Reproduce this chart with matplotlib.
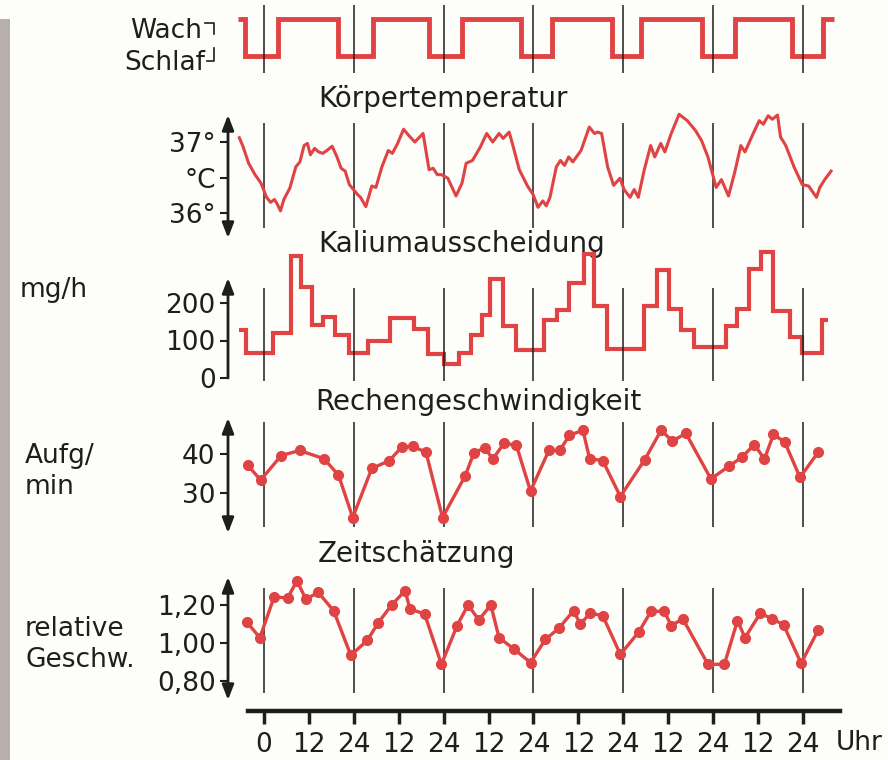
import matplotlib.pyplot as plt
from matplotlib.lines import Line2D
from matplotlib.patches import Rectangle

plt.rcParams['font.family'] = ['DejaVu Sans']

W, H = 888, 760
RED = '#df4343'
INK = '#1e1e1e'
BG = '#fdfdf9'

# Mitternachtslinien (Stunden)
days = [0, 24, 48, 72, 96, 120, 144]
hour_ticks = [0, 12, 24, 36, 48, 60, 72, 84, 96, 108, 120, 132, 144]
hour_labels = ['0', '12', '24', '12', '24', '12', '24', '12', '24', '12', '24', '12', '24']

# Wach (1) / Schlaf (0)
wake_edges = [-6.9, -5.0, 3.8, 19.8, 29.0, 44.2, 53.0, 68.6, 77.0, 93.0, 100.6,
              117.0, 125.8, 141.0, 149.4, 152.4]
wake_state = [1, 0, 1, 0, 1, 0, 1, 0, 1, 0, 1, 0, 1, 0, 1]

# Koerpertemperatur
temp_h = [-6.6, -5.7, -4.1, -2.4, -0.8, 0.7, 1.75, 2.8, 3.6, 4.4, 5.3, 6.9, 8.5, 9.6,
          10.7, 11.6, 12.4, 13.5, 14.6, 15.7, 16.8, 18.2, 19.5, 20.6, 21.7, 22.8, 23.9,
          25.0, 25.8, 27.2, 28.8, 29.9, 31.5, 33.2, 34.3, 35.7, 37.3, 38.7, 40.3, 42.5,
          44.1, 45.2, 46.3, 47.4, 49.1, 51.3, 52.9, 54.0, 55.7, 57.8, 59.5, 61.1, 62.8,
          63.9, 65.5, 66.6, 68.2, 70.4, 71.9, 73.2, 74.5, 75.4, 76.4, 78.1, 79.2, 80.3,
          81.4, 82.5, 84.7, 86.9, 88.3, 89.1, 90.2, 91.8, 93.4, 95.1, 96.2, 97.8, 98.9,
          100.0, 101.6, 103.3, 104.4, 106.0, 107.1, 108.8, 110.9, 113.1, 115.3, 116.9,
          118.6, 120.8, 122.2, 124.1, 125.7, 127.4, 128.5, 130.7, 132.3, 133.4, 134.7,
          135.8, 137.2, 138.0, 139.4, 141.6, 143.8, 145.5, 147.6, 148.5, 149.8, 151.5]
temp_c = [37.06, 36.95, 36.70, 36.54, 36.42, 36.22, 36.15, 36.19, 36.12, 36.03, 36.19,
          36.35, 36.65, 36.72, 36.95, 36.98, 36.82, 36.91, 36.86, 36.84, 36.88, 36.94,
          36.79, 36.63, 36.59, 36.40, 36.33, 36.26, 36.22, 36.09, 36.38, 36.36, 36.65,
          36.88, 36.84, 36.98, 37.18, 37.09, 37.00, 37.12, 36.61, 36.63, 36.54, 36.54,
          36.49, 36.24, 36.42, 36.70, 36.74, 36.93, 37.12, 37.00, 37.12, 37.05, 37.14,
          36.93, 36.61, 36.38, 36.26, 36.08, 36.17, 36.10, 36.22, 36.65, 36.74, 36.67,
          36.79, 36.72, 36.88, 37.21, 37.12, 37.14, 37.12, 36.65, 36.39, 36.49, 36.33,
          36.22, 36.33, 36.22, 36.61, 36.95, 36.79, 36.98, 36.86, 37.12, 37.39, 37.30,
          37.16, 37.02, 36.79, 36.36, 36.47, 36.24, 36.56, 36.95, 36.86, 37.12, 37.30,
          37.25, 37.37, 37.32, 37.38, 37.07, 36.95, 36.65, 36.40, 36.38, 36.22, 36.36,
          36.47, 36.59]

# Kaliumausscheidung (mg/h), Stufen
kal_edges = [-6.6, -4.9, 2.5, 7.1, 9.8, 12.8, 15.8, 19.1, 22.6, 27.7, 33.7, 40.1, 43.7,
             48.1, 52.1, 55.4, 58.3, 60.4, 63.9, 67.4, 74.9, 78.4, 81.6, 85.5, 88.2, 91.6,
             101.6, 105.1, 108.2, 111.5, 114.8, 123.3, 126.4, 129.7, 132.8, 136.1, 140.4,
             143.7, 149.0, 150.8]
kal_vals = [127, 67, 120, 326, 243, 142, 163, 116, 67, 100, 160, 131, 64, 37, 68, 116,
            169, 264, 140, 76, 156, 182, 253, 332, 193, 78, 193, 287, 185, 129, 83, 140,
            184, 291, 335, 178, 109, 67, 156]

# Rechengeschwindigkeit (Aufg/min)
rech_h = [-4.4, -0.9, 4.6, 9.5, 16.0, 19.9, 23.7, 28.8, 33.5, 36.8, 39.7, 43.3, 47.7,
          53.7, 56.1, 59.0, 61.1, 64.1, 67.4, 71.2, 76.1, 79.0, 81.6, 85.2, 87.0, 90.5,
          95.2, 101.7, 106.1, 109.1, 112.7, 119.4, 124.1, 127.7, 131.0, 133.7, 136.1,
          139.1, 143.2, 148.1]
rech_v = [37.2, 33.3, 39.6, 40.9, 38.8, 34.6, 23.7, 36.3, 38.3, 41.8, 42.0, 40.4, 23.7,
          34.3, 40.3, 41.6, 38.7, 42.7, 42.3, 30.5, 40.9, 40.9, 44.8, 46.1, 38.8, 38.3,
          29.1, 38.5, 46.1, 43.3, 45.3, 33.6, 36.8, 39.2, 42.4, 38.7, 45.0, 43.1, 34.0,
          40.5]

# Zeitschaetzung (relative Geschwindigkeit)
zeit_h = [-4.6, -1.1, 2.7, 6.3, 8.8, 11.2, 14.5, 18.6, 23.2, 27.6, 30.5, 34.1, 37.7,
          39.0, 42.9, 47.4, 51.6, 54.5, 57.4, 60.6, 62.8, 66.8, 71.2, 75.2, 78.8, 82.7,
          84.5, 87.2, 90.5, 95.2, 100.1, 103.4, 106.9, 108.8, 111.9, 118.6, 123.0, 126.5,
          128.5, 132.6, 135.8, 138.8, 143.5, 148.1]
zeit_v = [1.11, 1.028, 1.243, 1.237, 1.327, 1.231, 1.266, 1.17, 0.935, 1.014, 1.106,
          1.20, 1.275, 1.179, 1.153, 0.888, 1.092, 1.20, 1.122, 1.20, 1.028, 0.968, 0.897,
          1.019, 1.078, 1.17, 1.10, 1.157, 1.144, 0.94, 1.057, 1.167, 1.167, 1.092, 1.127,
          0.888, 0.888, 1.118, 1.028, 1.157, 1.127, 1.096, 0.893, 1.07]

# x-Skala: 0 h bei 264 px, 3.743 px pro Stunde
H0, PXH = 264, 3.743
AX_L, AX_R = 228, 845
XL, XR = (AX_L - H0) / PXH, (AX_R - H0) / PXH

fig = plt.figure(figsize=(W / 100, H / 100), dpi=100, facecolor=BG)
bg = fig.add_axes([0, 0, 1, 1])
bg.set_xlim(0, W)
bg.set_ylim(H, 0)
bg.axis('off')
bg.add_patch(Rectangle((0, 19), 10, H - 19, color='#b6afab', lw=0))


def panel(top, bot, p1, v1, p2, v2):
    ax = fig.add_axes([AX_L / W, 1 - bot / H, (AX_R - AX_L) / W, (bot - top) / H])
    k = (v2 - v1) / (p2 - p1)
    pv = lambda p: v1 + (p - p1) * k
    ax.set_ylim(pv(bot), pv(top))
    ax.set_xlim(XL, XR)
    ax.patch.set_alpha(0)
    for s in ax.spines.values():
        s.set_visible(False)
    ax.set_xticks([])
    ax.tick_params(axis='y', length=6, width=1.5, pad=3, labelsize=19,
                   color=INK, labelcolor=INK)
    return ax, pv


def arrow(ax, pv, a, b, style):
    ax.annotate('', xy=(0, pv(b)), xytext=(0, pv(a)),
                xycoords=('axes fraction', 'data'), textcoords=('axes fraction', 'data'),
                arrowprops=dict(arrowstyle=style + ',head_length=0.9,head_width=0.35',
                                color=INK, lw=2, shrinkA=0, shrinkB=0, mutation_scale=10),
                annotation_clip=False)


# 1 Wach/Schlaf
ax1, pv1 = panel(2, 76, 19, 1, 56, 0)
ax1.set_yticks([])
ax1.vlines(days, pv1(73), pv1(5), color=INK, lw=1.1)
ax1.stairs(wake_state, wake_edges, baseline=None, color=RED, lw=3.5)
bg.text(202, 38, 'Wach', fontsize=19, ha='right', va='baseline', color=INK)
bg.text(205, 70, 'Schlaf', fontsize=19, ha='right', va='baseline', color=INK)
bg.add_line(Line2D([205, 214, 214], [23, 23, 34], color=INK, lw=1.2))
bg.add_line(Line2D([214, 214, 207], [48, 61, 61], color=INK, lw=1.2))

# 2 Koerpertemperatur
ax2, pv2 = panel(112, 240, 142, 37, 213, 36)
ax2.set_yticks([36, 36.5, 37], ['36°', '°C', '37°'])
ax2.vlines(days, pv2(228), pv2(123), color=INK, lw=1.1)
ax2.plot(temp_h, temp_c, color=RED, lw=2.2, solid_joinstyle='round')
arrow(ax2, pv2, 238, 115, '<|-|>')
bg.text(318, 107, 'Körpertemperatur', fontsize=20, va='baseline', color=INK)

# 3 Kalium
ax3, pv3 = panel(245, 385, 303, 200, 378, 0)
ax3.set_yticks([0, 100, 200], ['0', '100', '200'])
ax3.vlines(days, pv3(381), pv3(288), color=INK, lw=1.1)
ax3.stairs(kal_vals, kal_edges, baseline=None, color=RED, lw=3)
arrow(ax3, pv3, 378, 278, '-|>')
bg.text(318, 252, 'Kaliumausscheidung', fontsize=20, va='baseline', color=INK)
bg.text(20, 297, 'mg/h', fontsize=19, va='baseline', color=INK)

# 4 Rechengeschwindigkeit
ax4, pv4 = panel(412, 537, 454, 40, 493, 30)
ax4.set_yticks([30, 40], ['30', '40'])
ax4.vlines(days, pv4(527), pv4(422), color=INK, lw=1.1)
ax4.plot(rech_h, rech_v, '-o', color=RED, lw=2.4, ms=7)
arrow(ax4, pv4, 533, 418, '<|-|>')
bg.text(315, 410, 'Rechengeschwindigkeit', fontsize=20, va='baseline', color=INK)
bg.text(25, 463, 'Aufg/', fontsize=19, va='baseline', color=INK)
bg.text(25, 494, 'min', fontsize=19, va='baseline', color=INK)

# 5 Zeitschaetzung
ax5, pv5 = panel(570, 705, 605, 1.2, 681, 0.8)
ax5.set_yticks([0.8, 1.0, 1.2], ['0,80', '1,00', '1,20'])
ax5.vlines(days, pv5(693), pv5(588), color=INK, lw=1.1)
ax5.plot(zeit_h, zeit_v, '-o', color=RED, lw=2.4, ms=7)
arrow(ax5, pv5, 700, 577, '<|-|>')
bg.text(318, 562, 'Zeitschätzung', fontsize=20, va='baseline', color=INK)
bg.text(25, 636, 'relative', fontsize=19, va='baseline', color=INK)
bg.text(25, 667, 'Geschw.', fontsize=19, va='baseline', color=INK)

# Zeitachse
ax6 = fig.add_axes([248 / W, 1 - 711 / H, (840 - 248) / W, 0.0001])
ax6.set_xlim((248 - H0) / PXH, (840 - H0) / PXH)
ax6.patch.set_alpha(0)
for name, s in ax6.spines.items():
    s.set_visible(name == 'bottom')
ax6.spines['bottom'].set_linewidth(3.2)
ax6.spines['bottom'].set_color(INK)
ax6.set_yticks([])
ax6.set_xticks(hour_ticks, hour_labels)
ax6.tick_params(axis='x', length=9, width=2.5, pad=6, labelsize=19,
                color=INK, labelcolor=INK)
bg.text(836, 743, 'Uhr', fontsize=19, va='center', color=INK)

fig.savefig('out.png', dpi=100, facecolor=BG)
